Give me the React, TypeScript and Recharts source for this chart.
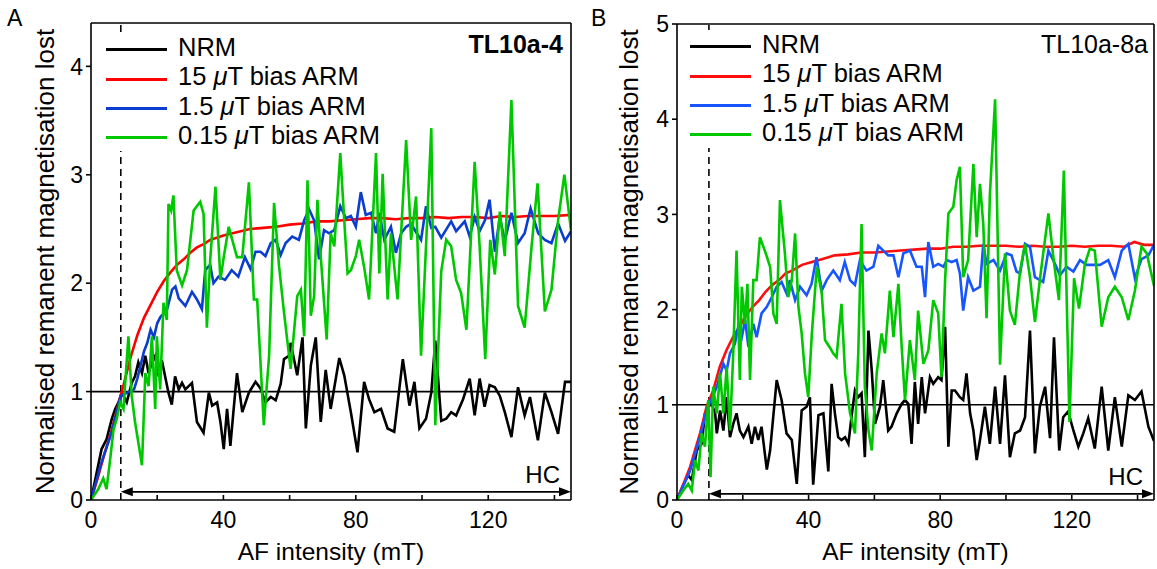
import React from 'react';
import { LineChart, Line, XAxis, YAxis, ReferenceLine, Legend } from 'recharts';

const FONT = '"Liberation Sans", Arial, Helvetica, sans-serif';

// ---------- shared axis values ----------
const xTicks = [0, 20, 40, 60, 80, 100, 120, 140];
const yTicksA = [0, 1, 2, 3, 4];
const yTicksB = [0, 1, 2, 3, 4, 5];
const seriesNames = ['NRM', '15 μT bias ARM', '1.5 μT bias ARM', '0.15 μT bias ARM'];

// ---------- Panel A (TL10a-4) ----------
const nrmAx = [0,3.2,4.7,6.3,7.3,8.3,9.3,10.8,12.3,13.3,14.3,15.4,16.4,17.4,18.4,19.4,20.4,21.4,22.4,23.4,24.4,25.4,26.5,27.5,28.5,30.5,32,34,35.6,36.6,38.1,39.1,40.1,41.1,42.1,43.1,44.1,45.7,47.7,49.7,51.2,52.7,54.3,55.8,57.3,58.3,59.8,60.3,61.3,62.3,63.9,64.9,66.4,67.9,69.4,70.9,72.4,75,76.5,78.5,80.5,82.5,84,85.6,87.6,89.6,91.6,94.2,96.2,97.7,99.2,101.2,102.8,104,105.8,107.3,108.8,110.3,112.4,114.4,115.9,117.4,118.9,120.4,122,123.5,125,127,129,131,132.6,135,137.1,139.1,141.1,143.2,145];
const nrmAy = [0,0.47,0.56,0.75,0.84,0.9,0.99,0.9,1.08,1.14,1.27,1.17,1.33,1.17,1.27,1.33,1.14,1.29,1.14,0.99,0.88,1.14,1.02,1.08,1.02,1.08,0.72,0.62,0.99,0.87,0.9,0.72,0.47,0.84,0.5,0.84,1.17,0.81,0.99,1.09,1.03,0.9,0.95,0.92,1.07,1.3,1.33,1.45,1.3,1.15,1.5,0.66,1.24,1.5,0.72,1.2,0.84,1.31,1.15,0.81,0.44,1.09,0.93,0.81,0.84,0.66,0.63,1.3,0.87,1.09,0.66,0.75,0.99,1.47,0.73,0.75,0.81,0.78,0.93,1.12,0.78,1.12,0.86,1.06,1.04,0.96,0.81,0.58,1.04,0.78,0.95,0.55,0.99,0.81,0.61,1.09,1.09];

const arm15Ax = [0,2,4,6,8,10,12,14,16,18,20,22,24,26,28,30,32,34,36,38,40,44,48,52,56,60,64,68,72,76,80,84,88,92,96,100,104,108,112,116,120,124,128,132,136,140,145];
const arm15Ay = [0,0.2,0.42,0.62,0.85,1.08,1.32,1.52,1.68,1.8,1.92,2.02,2.1,2.17,2.22,2.28,2.33,2.36,2.4,2.42,2.44,2.47,2.5,2.51,2.52,2.54,2.55,2.57,2.57,2.58,2.59,2.6,2.6,2.59,2.6,2.6,2.61,2.6,2.61,2.61,2.6,2.62,2.61,2.62,2.62,2.62,2.63];

const arm1p5Ax = [0,3,6,9,11,13,14,16,17,18,19,20,21,22,23,24.5,25.5,26.5,28.5,30.5,32,33.5,34.5,36,37,38.5,40.5,42.5,44.5,46.5,48.2,49.7,51.2,52.7,54.3,55.8,57.3,58.8,60.8,62.8,64.4,65.9,67.4,68.9,70.4,71.9,73.5,75.3,77,78.5,80,81.5,83,84.6,86.1,87.1,88.6,90.6,92.1,93.7,95.2,96.7,98.2,99.7,101.2,102.8,104,105.8,108.8,110.3,112.9,114.4,115.9,117.4,119,120.4,122,123.5,125,127,129,131,132.8,135.1,137.1,139.1,141.1,143.2,145];
const arm1p5Ay = [0,0.33,0.6,0.96,0.99,1.02,1.12,1.37,1.45,1.57,1.5,1.63,1.69,1.72,1.76,1.94,1.97,1.86,1.79,1.92,1.85,1.76,2.12,2.17,2.0,2.06,2.03,2.12,2.06,2.24,2.13,2.29,2.29,2.25,2.37,2.4,2.26,2.37,2.43,2.4,2.58,2.68,2.58,2.22,2.49,2.46,2.49,2.71,2.6,2.62,2.52,2.84,2.63,2.65,2.46,2.65,2.4,2.52,2.28,2.46,2.52,2.55,2.47,2.4,2.71,2.51,2.52,2.42,2.57,2.48,2.57,2.43,2.61,2.48,2.58,2.77,2.29,2.61,2.39,2.65,2.37,2.46,2.69,2.46,2.4,2.37,2.55,2.39,2.48];

const arm0p15Ax = [0,2.2,3.7,4.7,5.8,6.8,7.8,8.8,9.8,11.3,12.3,13.3,14.3,15.4,16.4,17.4,18.4,19.4,19.9,20.9,21.9,22.9,23.4,24.2,24.9,25.9,27.5,29,31,33,34,35,36,37.6,39.1,40.1,41.6,44.1,45.7,47.7,49.2,50.2,52.2,53.8,55.3,56.8,58.3,60.3,62.3,63.4,64.4,65.4,66.4,67.4,68.4,69.4,71.2,72.4,73.5,75.3,76.5,77.5,78.5,80,81,82.5,84,86.1,87.1,88.1,89.6,90.6,92.6,95.2,96.7,98.2,99.7,101.2,102.8,104,105.8,107.3,108.8,110.3,111.8,113.4,115.9,117.4,119.1,120.6,122,123.5,125,127,129,131,133.1,134.9,137.1,139.1,141.1,143,145];
const arm0p15Ay = [0,0.1,0.2,0.1,0.38,0.65,0.75,0.9,0.84,1.51,0.96,0.72,0.53,0.32,1.17,1.05,1.51,0.84,1.51,1.02,1.82,1.66,2.73,2.67,2.81,2.12,1.98,2.12,2.67,2.75,2.64,1.59,2.21,2.89,2.03,2.24,2.52,2.24,2.24,2.93,1.85,1.85,0.69,1.33,2.74,2.16,1.73,1.21,1.88,1.94,1.51,2.95,1.7,1.88,2.77,2.25,1.48,2.46,2.34,3.2,2.58,2.09,2.12,2.25,2.4,2.15,1.85,3.2,2.09,3.01,1.85,2.46,1.85,3.32,2.4,2.8,1.33,2.34,3.43,0.69,2.11,2.4,2.34,2.03,1.91,1.57,3.12,2.34,1.3,2.4,2.08,2.66,2.25,3.69,1.79,1.59,2.34,2.92,1.74,1.94,2.58,3.0,2.49];

// ---------- Panel B (TL10a-8a) ----------
const nrmBx = [0,1.9,3.4,4.5,6,7.5,8.5,9.5,10.5,11.6,12.1,13.1,14.1,15.1,16.1,17.1,18.1,19.1,20.2,21.7,22.7,23.7,24.7,25.7,27.3,28.3,30.3,31.8,33.3,34.9,36.4,37.9,39.4,40.4,41.4,43,44.5,46,47,48,49,50,51.1,52.1,53.1,54.1,55.1,56.1,57.1,58.2,59.2,60.2,61.7,62.7,64.2,65.2,66.8,68.3,69.3,70.3,71.3,72.3,73.3,74.4,75.4,76.9,77.9,79.4,80.4,81.5,82.5,83.5,84.5,86,87,88,89.1,90.1,91.1,92.1,93.6,95.1,96.7,98.2,99.7,101.2,102.7,104.3,105.8,107.3,108.8,110.3,111.9,113.4,114.6,116.2,117.4,118.9,120.5,122,123.5,125,127,129.1,131.1,133.1,135.2,137.2,139.2,141.2,143.3,145];
const nrmBy = [0,0.16,0.26,0.21,0.52,0.59,0.91,0.98,1.01,0.91,0.7,0.94,0.73,1.08,0.66,0.8,0.91,0.73,0.66,0.77,0.59,0.77,0.63,0.77,0.32,0.52,1.26,1.05,0.7,0.63,0.17,0.94,0.98,1.08,0.16,0.89,0.91,0.3,1.22,0.91,0.66,0.63,0.66,0.59,0.89,1.15,1.08,1.12,0.45,1.78,1.36,0.8,0.98,1.26,0.73,0.77,0.91,1.01,1.05,1.01,0.59,1.24,0.8,1.29,0.91,1.29,1.22,1.29,1.26,1.82,0.56,1.15,1.15,1.08,1.05,1.33,0.91,0.73,0.42,0.63,0.98,0.59,1.19,0.59,1.31,0.45,0.7,0.73,0.87,1.78,0.49,0.98,1.19,0.65,1.71,0.52,0.87,0.93,0.73,0.56,0.7,0.86,0.54,1.19,0.52,1.08,0.56,1.1,1.05,1.14,0.77,0.62];

const arm15Bx = [0,2,4,7,9,11,13,15,17,19,21,23,25,27,29,31,33,35,38,41,44,48,52,56,60,64,68,72,76,80,84,88,92,96,100,104,108,112,116,120,124,128,132,136,139,142,145];
const arm15By = [0,0.17,0.35,0.7,0.98,1.15,1.4,1.57,1.71,1.82,1.94,2.03,2.1,2.19,2.26,2.31,2.38,2.41,2.47,2.5,2.53,2.57,2.58,2.6,2.6,2.61,2.62,2.63,2.64,2.64,2.66,2.66,2.67,2.67,2.67,2.66,2.67,2.66,2.66,2.67,2.66,2.67,2.67,2.66,2.71,2.68,2.68];

const arm1p5Bx = [0,4,7,9,12.1,14.1,15.1,16.1,17.6,18.6,19.7,20.7,21.7,23.2,24.2,25.7,27.3,28.8,30.3,31.8,33.3,34.3,35.9,37.4,39.4,40.9,42.4,44,45.5,47.5,49.5,51,52.6,54.1,55.6,57.6,59.7,61.2,62.7,64.2,65.8,67.3,68.8,70.8,72.8,74.4,75.4,76.4,77.9,79.4,81,82,83.5,85,86,87,88.5,90.1,92.1,93.1,94.1,96.2,98.2,100.2,101.7,103.2,104.3,105.8,107.3,108.8,111.3,112.9,114.9,116.4,118.4,120.5,122.5,124.5,128.6,131.1,133.1,135.2,137.2,139.2,141.2,143.3,145];
const arm1p5By = [0,0.31,0.66,0.94,1.19,1.43,1.36,1.54,1.64,1.82,1.71,1.89,1.61,1.85,1.71,1.96,2.03,2.13,2.24,2.29,2.17,2.31,2.1,2.24,2.15,2.27,2.55,2.2,2.31,2.41,2.31,2.5,2.31,2.26,2.52,2.41,2.45,2.67,2.62,2.57,2.57,2.34,2.59,2.62,2.45,2.45,2.13,2.71,2.45,2.48,2.45,2.52,2.5,2.52,2.38,1.99,2.34,2.2,2.24,2.69,2.48,2.52,2.41,2.59,2.57,2.4,2.38,2.69,2.66,2.34,2.29,2.62,2.48,2.36,2.45,2.4,2.52,2.47,2.47,2.52,2.34,2.62,2.69,2.33,2.53,2.57,2.68];

const arm0p15Bx = [0,1.9,3.4,4.5,5.5,6.5,7.5,8.5,9.5,10.2,11,12.1,13.1,14.1,15.1,16.1,17.1,18.1,19.1,19.7,20.7,21.4,22.2,23.2,24.2,25.2,26.7,28.3,29.3,30.3,31.3,32.8,33.8,34.9,35.9,36.9,37.9,38.9,39.9,41,42.5,44,45,46.5,47.5,48.5,50,51.1,52.6,54.1,55.1,56.1,57.1,58.2,59.2,60.7,62.2,63.2,64.7,65.8,67.3,68.3,69.3,70.8,72.3,73.3,74.9,76.4,77.9,79.4,80.4,81.5,82.5,84,85,86,87,88.5,90.1,91.1,92.1,93.1,94.1,95.1,96.7,98.2,99.7,101.2,102.7,104.3,105.8,107.3,108.8,110.8,112.9,114.4,116.1,117.6,119.3,120.7,122.2,124,125.5,127,129.1,131.1,133.1,135.2,137.2,139.2,141.2,142.8,145];
const arm0p15By = [0,0.1,0.17,0.1,0.42,0.31,0.7,0.56,1.05,0.24,1.19,0.91,1.33,0.91,1.4,0.73,1.54,2.62,1.26,2.24,1.85,2.27,1.26,2.31,2.31,2.76,2.62,2.45,1.96,1.85,3.15,2.59,2.13,2.31,2.8,2.03,1.75,1.33,1.08,1.75,2.45,2.17,1.68,1.6,1.54,1.5,2.06,1.33,0.91,0.7,1.54,2.9,1.19,0.73,0.52,1.33,1.75,1.54,2.2,1.71,2.27,1.61,1.05,1.68,1.26,1.99,1.43,1.57,2.1,1.96,1.29,2.31,3.01,3.08,3.36,3.5,2.34,2.52,3.53,2.76,3.32,2.9,1.91,3.2,4.21,1.42,2.59,1.99,1.84,2.41,2.69,2.34,1.87,2.45,3.01,2.55,2.1,3.46,0.82,2.33,2.01,2.48,2.64,2.62,1.82,2.13,2.24,2.13,1.89,2.2,2.66,2.59,2.25];

// ---------- helpers ----------
type Pt = { x: number; y: number };
type Series = { name: string; color: string; data: Pt[] };

const zip = (xs: number[], ys: number[]): Pt[] => {
  const n = Math.min(xs.length, ys.length);
  const out: Pt[] = [];
  for (let i = 0; i < n; i++) out.push({ x: xs[i], y: ys[i] });
  return out;
};

const seriesA: Series[] = [
  { name: seriesNames[0], color: '#000000', data: zip(nrmAx, nrmAy) },
  { name: seriesNames[1], color: '#ff0000', data: zip(arm15Ax, arm15Ay) },
  { name: seriesNames[2], color: '#0a3dd0', data: zip(arm1p5Ax, arm1p5Ay) },
  { name: seriesNames[3], color: '#00c800', data: zip(arm0p15Ax, arm0p15Ay) },
];
const seriesB: Series[] = [
  { name: seriesNames[0], color: '#000000', data: zip(nrmBx, nrmBy) },
  { name: seriesNames[1], color: '#ff0d0d', data: zip(arm15Bx, arm15By) },
  { name: seriesNames[2], color: '#1655ff', data: zip(arm1p5Bx, arm1p5By) },
  { name: seriesNames[3], color: '#00c800', data: zip(arm0p15Bx, arm0p15By) },
];

const renderName = (name: string) => {
  const parts = name.split('μ');
  if (parts.length < 2) return name;
  return (
    <>
      {parts[0]}
      <i>μ</i>
      {parts[1]}
    </>
  );
};

const LegendBox = ({ items }: { items: Series[] }) => (
  <div
    style={{
      display: 'inline-block',
      background: '#fff',
      padding: '0 4px 0 8px',
      fontFamily: FONT,
      fontSize: 25.5,
      color: '#000',
      lineHeight: 1,
    }}
  >
    {items.map((it) => (
      <div key={it.name} style={{ display: 'flex', alignItems: 'center', height: 29.4, whiteSpace: 'nowrap' }}>
        <div style={{ width: 61, height: 3, background: it.color, marginRight: 11, marginTop: 4, flex: 'none' }} />
        <span>{renderName(it.name)}</span>
      </div>
    ))}
  </div>
);

const HCArrow = (p: any) => {
  const { x1, y1, x2, y2 } = p;
  const L = 12;
  const H = 4.5;
  return (
    <g>
      <line x1={x1 + L - 1} y1={y1} x2={x2 - L + 1} y2={y2} stroke="#000" strokeWidth={1.8} />
      <polygon points={`${x1},${y1} ${x1 + L},${y1 - H} ${x1 + L},${y1 + H}`} fill="#000" />
      <polygon points={`${x2},${y2} ${x2 - L},${y2 - H} ${x2 - L},${y2 + H}`} fill="#000" />
      <text x={x2 - 11} y={y1 - 9} textAnchor="end" fontSize={24} fontFamily={FONT} fill="#000">HC</text>
    </g>
  );
};

type PanelProps = {
  left: number;
  width: number;
  plotRight: number;
  plotTop: number;
  yMax: number;
  yTicks: number[];
  series: Series[];
  dashX: number;
  hcY: number;
  legendLeft: number;
  legendTop: number;
  letter: string;
  letterLeft: number;
  sample: string;
  sampleRight: number;
  sampleBold: boolean;
  yLabelOffset: number;
};

const H = 569;
const PLOT_LEFT = 91;
const PLOT_BOTTOM = 500;
const Y_AXIS_W = 50;
const X_AXIS_H = 50;
const axisStroke = { stroke: '#000', strokeWidth: 1.6 };
const tickStyle = { fill: '#000', fontSize: 23, fontFamily: FONT };

function Panel(p: PanelProps) {
  const margin = {
    top: p.plotTop - 1,
    right: p.width - p.plotRight - 1,
    bottom: H - PLOT_BOTTOM - X_AXIS_H,
    left: PLOT_LEFT - Y_AXIS_W,
  };
  return (
    <div style={{ position: 'absolute', left: p.left, top: 0, width: p.width, height: H }}>
      <LineChart width={p.width} height={H} margin={margin}>
        <XAxis
          dataKey="x"
          type="number"
          domain={[0, 145]}
          allowDataOverflow
          ticks={xTicks}
          interval={0}
          tickFormatter={(v: number) => (v % 40 === 0 ? String(v) : '')}
          height={X_AXIS_H}
          tickSize={-5}
          tickMargin={17}
          axisLine={axisStroke}
          tickLine={axisStroke}
          tick={tickStyle}
          label={{
            value: 'AF intensity (mT)',
            position: 'insideBottom',
            offset: -10,
            fontSize: 24.5,
            fontFamily: FONT,
            fill: '#000',
          }}
        />
        <XAxis
          xAxisId="top"
          orientation="top"
          dataKey="x"
          type="number"
          domain={[0, 145]}
          allowDataOverflow
          ticks={xTicks}
          interval={0}
          height={1}
          tickSize={-5}
          tick={false}
          axisLine={axisStroke}
          tickLine={axisStroke}
        />
        <YAxis
          type="number"
          domain={[0, p.yMax]}
          allowDataOverflow
          ticks={p.yTicks}
          interval={0}
          width={Y_AXIS_W}
          tickSize={5}
          tickMargin={3}
          axisLine={axisStroke}
          tickLine={axisStroke}
          tick={tickStyle}
          label={{
            value: 'Normalised remanent magnetisation lost',
            angle: -90,
            position: 'insideLeft',
            offset: p.yLabelOffset,
            fontSize: 26,
            fontFamily: FONT,
            fill: '#000',
            style: { textAnchor: 'middle' },
          }}
        />
        <YAxis
          yAxisId="right"
          orientation="right"
          type="number"
          domain={[0, p.yMax]}
          allowDataOverflow
          ticks={p.yTicks}
          interval={0}
          width={1}
          tickSize={-5}
          tick={false}
          axisLine={axisStroke}
          tickLine={axisStroke}
        />
        <ReferenceLine y={1} stroke="#000" strokeWidth={1.6} />
        <ReferenceLine x={p.dashX} stroke="#000" strokeWidth={1.6} strokeDasharray="7 5" />
        <ReferenceLine
          segment={[
            { x: p.dashX, y: p.hcY },
            { x: 145, y: p.hcY },
          ]}
          shape={HCArrow}
        />
        {p.series.map((s) => (
          <Line
            key={s.name}
            data={s.data}
            dataKey="y"
            name={s.name}
            stroke={s.color}
            strokeWidth={2.6}
            dot={false}
            activeDot={false}
            isAnimationActive={false}
            strokeLinejoin="miter"
          />
        ))}
        <Legend
          layout="vertical"
          align="center"
          verticalAlign="middle"
          wrapperStyle={{ left: p.legendLeft, top: p.legendTop, width: 'auto', lineHeight: 0 }}
          content={() => <LegendBox items={p.series} />}
        />
      </LineChart>
      <div
        style={{
          position: 'absolute',
          left: p.letterLeft,
          top: 7,
          fontFamily: FONT,
          fontSize: 23,
          lineHeight: 1,
          color: '#000',
        }}
      >
        {p.letter}
      </div>
      <div
        style={{
          position: 'absolute',
          right: p.width - p.sampleRight,
          top: 32,
          fontFamily: FONT,
          fontSize: 25,
          lineHeight: 1,
          fontWeight: p.sampleBold ? 'bold' : 'normal',
          color: '#000',
          whiteSpace: 'nowrap',
        }}
      >
        {p.sample}
      </div>
    </div>
  );
}

export default function App() {
  return (
    <div style={{ position: 'absolute', left: 0, top: 0, width: 1157, height: 569, background: '#fff', overflow: 'hidden' }}>
      <Panel
        left={0}
        width={590}
        plotRight={571}
        plotTop={23}
        yMax={4.4}
        yTicks={yTicksA}
        series={seriesA}
        dashX={9}
        hcY={0.075}
        legendLeft={98}
        legendTop={33}
        letter="A"
        letterLeft={7}
        sample="TL10a-4"
        sampleRight={563}
        sampleBold
        yLabelOffset={4}
      />
      <Panel
        left={586}
        width={571}
        plotRight={568}
        plotTop={24}
        yMax={5}
        yTicks={yTicksB}
        series={seriesB}
        dashX={9.7}
        hcY={0.065}
        legendLeft={96}
        legendTop={30}
        letter="B"
        letterLeft={5}
        sample="TL10a-8a"
        sampleRight={562}
        sampleBold={false}
        yLabelOffset={2}
      />
    </div>
  );
}
